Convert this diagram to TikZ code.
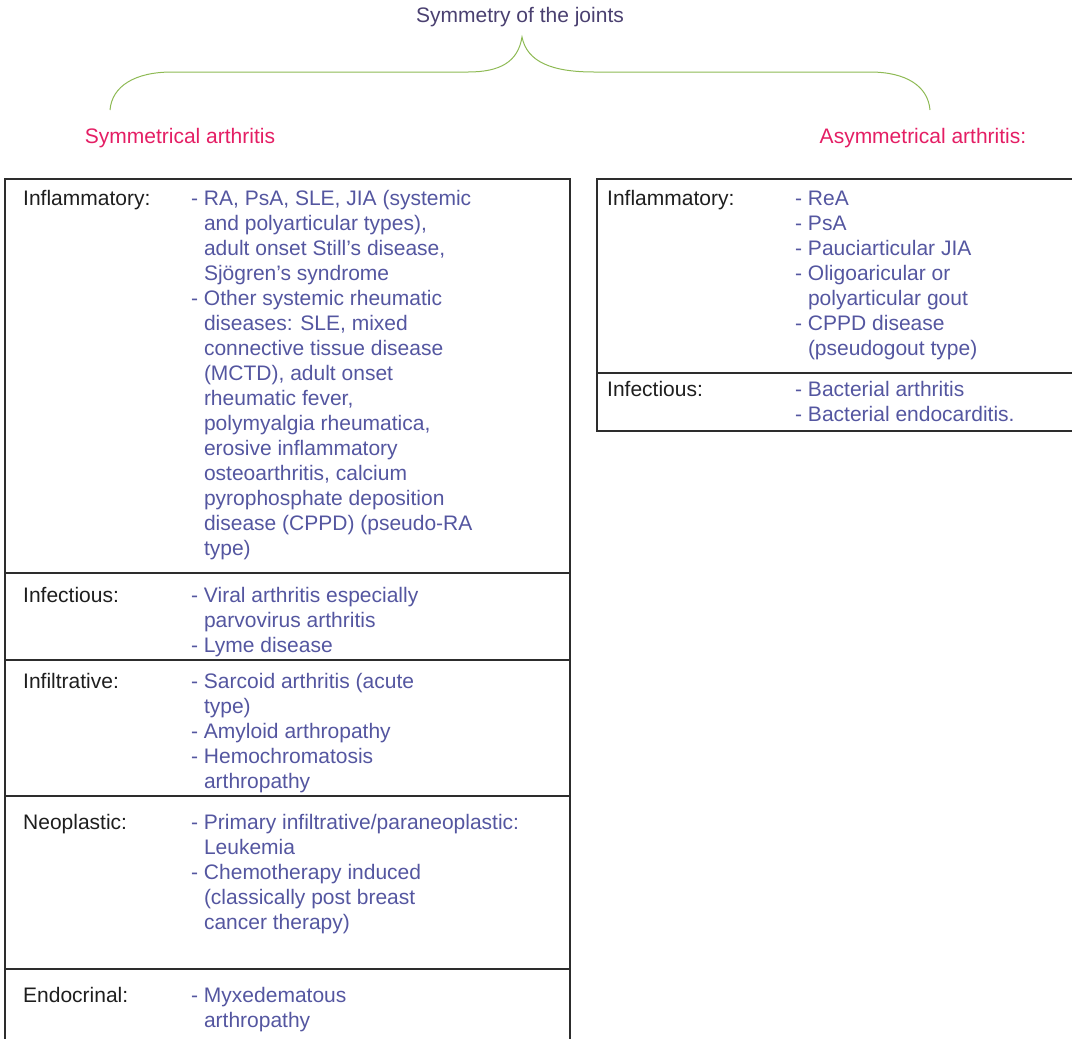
\documentclass[tikz,border=0pt]{standalone}
\usepackage{fontspec}
\setmainfont{Liberation Sans}
\definecolor{itemc}{RGB}{84,86,160}
\definecolor{titlec}{RGB}{74,64,112}
\definecolor{pinkc}{RGB}{228,30,100}
\definecolor{bracec}{RGB}{142,186,84}
\definecolor{rulec}{RGB}{45,45,45}
\definecolor{catc}{RGB}{30,30,30}
\newcommand\dsh{\makebox[12.8pt][l]{-}}
\newcommand\ind{\hspace*{12.8pt}}
\newcommand\topstrut{\rule{0pt}{16pt}}
\begin{document}
\begin{tikzpicture}[x=1pt,y=-1pt,
  txt/.style={inner sep=0pt, anchor=north west, align=left, font=\fontsize{21}{25}\selectfont},
  cat/.style={txt, text=catc},
  items/.style={txt, text=itemc},
  head/.style={inner sep=0pt, font=\fontsize{21}{25}\selectfont},
  rule/.style={draw=rulec, line width=1.1pt},
  bracepath/.style={draw=bracec, line width=1pt}]
\clip (0,0) rectangle (1072,1039);

% title and brace
\node[head, text=titlec] (title) at (520,17) {Symmetry of the joints};
\coordinate (bl) at (110,110);
\coordinate (br) at (930,110);
\coordinate (cusp) at (522,37);
\draw[bracepath] (bl) .. controls (112,86) and (135,72) .. (172,72) -- (468,72)
  .. controls (500,72) and (518,62) .. (cusp)
  .. controls (527,62) and (552,72) .. (594,72) -- (870,72)
  .. controls (906,72) and (928,86) .. (br);
\node[head, text=pinkc] (sym) at (180,138) {Symmetrical arthritis};
\node[head, text=pinkc] (asym) at (923,138) {Asymmetrical arthritis:};

% left table
\draw[rule] (5,1060) -- (5,179) -- (570,179) -- (570,1060);
\draw[rule] (5,573) -- (570,573);
\draw[rule] (5,660) -- (570,660);
\draw[rule] (5,796) -- (570,796);
\draw[rule] (5,969) -- (570,969);

\node[cat] (c1) at (23,189) {\topstrut Inflammatory:};
\node[items] (i1) at (191,189) {\topstrut\dsh RA, PsA, SLE, JIA (systemic\\
\ind and polyarticular types),\\
\ind adult onset Still’s disease,\\
\ind Sjögren’s syndrome\\
\dsh Other systemic rheumatic\\
\ind diseases: SLE, mixed\\
\ind connective tissue disease\\
\ind (MCTD), adult onset\\
\ind rheumatic fever,\\
\ind polymyalgia rheumatica,\\
\ind erosive inflammatory\\
\ind osteoarthritis, calcium\\
\ind pyrophosphate deposition\\
\ind disease (CPPD) (pseudo-RA\\
\ind type)};

\node[cat] (c2) at (23,586) {\topstrut Infectious:};
\node[items] (i2) at (191,586) {\topstrut\dsh Viral arthritis especially\\
\ind parvovirus arthritis\\
\dsh Lyme disease};

\node[cat] (c3) at (23,672) {\topstrut Infiltrative:};
\node[items] (i3) at (191,672) {\topstrut\dsh Sarcoid arthritis (acute\\
\ind type)\\
\dsh Amyloid arthropathy\\
\dsh Hemochromatosis\\
\ind arthropathy};

\node[cat] (c4) at (23,813) {\topstrut Neoplastic:};
\node[items] (i4) at (191,813) {\topstrut\dsh Primary infiltrative/paraneoplastic:\\
\ind Leukemia\\
\dsh Chemotherapy induced\\
\ind (classically post breast\\
\ind cancer therapy)};

\node[cat] (c5) at (23,986) {\topstrut Endocrinal:};
\node[items] (i5) at (191,986) {\topstrut\dsh Myxedematous\\
\ind arthropathy};

% right table
\draw[rule] (1090,179) -- (597,179) -- (597,431) -- (1090,431);
\draw[rule] (597,373) -- (1090,373);

\node[cat] (r1) at (607,189) {\topstrut Inflammatory:};
\node[items] (ri1) at (795,189) {\topstrut\dsh ReA\\
\dsh PsA\\
\dsh Pauciarticular JIA\\
\dsh Oligoaricular or\\
\ind polyarticular gout\\
\dsh CPPD disease\\
\ind (pseudogout type)};

\node[cat] (r2) at (607,380) {\topstrut Infectious:};
\node[items] (ri2) at (795,380) {\topstrut\dsh Bacterial arthritis\\
\dsh Bacterial endocarditis.};
\end{tikzpicture}
\end{document}
